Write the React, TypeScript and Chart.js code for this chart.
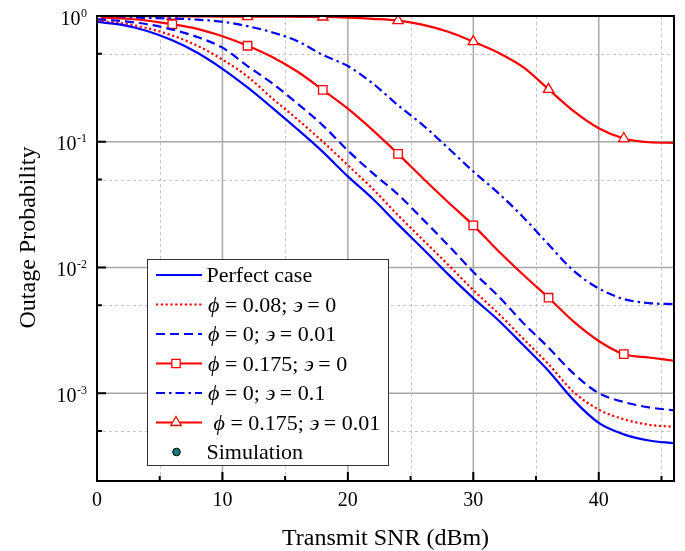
import React, { useEffect, useRef } from "react";
import { Chart, registerables } from "chart.js";

Chart.register(...registerables);

const W = 685;
const H = 551;
const FONT = '"Liberation Serif", "Times New Roman", "DejaVu Serif", serif';

// ---- data ----
const snr = [0, 2, 4, 6, 8, 10, 12, 14, 16, 18, 20, 22, 24, 26, 28, 30, 32, 34, 36, 38, 40, 42, 44, 46];
const perfect = [0.896, 0.85, 0.76, 0.64, 0.51, 0.38, 0.27, 0.185, 0.125, 0.083, 0.053, 0.035, 0.022, 0.014, 0.0088, 0.0057, 0.0038, 0.0024, 0.0015, 0.00088, 0.00058, 0.00047, 0.00042, 0.0004];
const phi008 = [0.918, 0.875, 0.8, 0.7, 0.58, 0.45, 0.33, 0.22, 0.15, 0.1, 0.065, 0.042, 0.026, 0.0165, 0.0105, 0.0066, 0.0043, 0.0027, 0.0017, 0.00102, 0.00074, 0.00062, 0.00056, 0.00054];
const eps001 = [0.94, 0.91, 0.86, 0.78, 0.68, 0.56, 0.4, 0.29, 0.2, 0.135, 0.085, 0.056, 0.038, 0.024, 0.015, 0.0092, 0.0059, 0.0036, 0.0023, 0.00143, 0.001, 0.00085, 0.00077, 0.00073];
const phi0175 = [0.975, 0.955, 0.92, 0.86, 0.79, 0.69, 0.58, 0.47, 0.36, 0.258, 0.183, 0.123, 0.08, 0.051, 0.033, 0.0216, 0.0135, 0.0087, 0.00574, 0.0037, 0.0026, 0.00204, 0.00192, 0.00181];
const eps01 = [0.97, 0.97, 0.965, 0.955, 0.935, 0.9, 0.83, 0.74, 0.63, 0.49, 0.4, 0.29, 0.195, 0.135, 0.089, 0.058, 0.039, 0.025, 0.0152, 0.0094, 0.0068, 0.0056, 0.0052, 0.0051];
const phi0175eps001 = [0.995, 0.995, 0.995, 0.995, 0.993, 0.99, 0.99, 0.988, 0.985, 0.982, 0.97, 0.95, 0.92, 0.85, 0.75, 0.625, 0.51, 0.39, 0.261, 0.175, 0.128, 0.106, 0.099, 0.098];

const labels = [
  "Perfect case",
  "\u03D5 = 0.08; \u03F6 = 0",
  "\u03D5 = 0; \u03F6 = 0.01",
  "\u03D5 = 0.175; \u03F6 = 0",
  "\u03D5 = 0; \u03F6 = 0.1",
  " \u03D5 = 0.175; \u03F6 = 0.01",
];
const simulationLabel = "Simulation";

const xMajor = [0, 10, 20, 30, 40];
const xMinor = [5, 15, 25, 35, 45];
const yMajor = [1, 0.1, 0.01, 0.001];
const yExp = ["0", "-1", "-2", "-3"];
const yMinor = [0.5, 0.05, 0.005, 0.0005];
const xTitle = "Transmit SNR (dBm)";
const yTitle = "Outage Probability";

const BLUE = "#0000ff";
const RED = "#ff0000";
const LW = 2.2;

const styles = [
  { color: BLUE, dash: [] as number[], marker: "" },
  { color: RED, dash: [2.2, 2.6], marker: "" },
  { color: BLUE, dash: [9, 5], marker: "" },
  { color: RED, dash: [] as number[], marker: "rect" },
  { color: BLUE, dash: [9, 4, 2.5, 4], marker: "" },
  { color: RED, dash: [] as number[], marker: "triangle" },
];
const series = [perfect, phi008, eps001, phi0175, eps01, phi0175eps001];

function isMarker(i: number) {
  const v = snr[i];
  return v % 6 === 0 && v <= 42;
}

function drawRich(ctx: CanvasRenderingContext2D, text: string, x: number, y: number, size: number) {
  let cx = x;
  for (const ch of text) {
    const italic = ch === "\u03D5" || ch === "\u03F6";
    ctx.font = `${italic ? "italic " : ""}${size}px ${FONT}`;
    ctx.fillText(ch, cx, y);
    cx += ctx.measureText(ch).width;
  }
}

function drawMarker(ctx: CanvasRenderingContext2D, kind: string, x: number, y: number) {
  ctx.save();
  ctx.setLineDash([]);
  ctx.fillStyle = "#fff";
  ctx.strokeStyle = RED;
  ctx.lineWidth = 1.3;
  ctx.beginPath();
  if (kind === "rect") {
    const s = 4.2;
    ctx.rect(x - s, y - s, 2 * s, 2 * s);
  } else if (kind === "triangle") {
    const r = 6;
    for (let k = 0; k < 3; k++) {
      const a = (k * 2 * Math.PI) / 3;
      const px = x + Math.sin(a) * r;
      const py = y - Math.cos(a) * r;
      if (k === 0) ctx.moveTo(px, py);
      else ctx.lineTo(px, py);
    }
    ctx.closePath();
  }
  ctx.fill();
  ctx.stroke();
  ctx.restore();
}

const decor = {
  id: "decor",
  beforeDatasetsDraw(chart: any) {
    const { ctx, chartArea: a } = chart;
    const x = chart.scales.x;
    const y = chart.scales.y;
    ctx.save();
    ctx.lineWidth = 1;
    ctx.strokeStyle = "#c4c4c4";
    ctx.setLineDash([3, 3]);
    ctx.beginPath();
    xMinor.forEach((v) => {
      const px = Math.round(x.getPixelForValue(v)) + 0.5;
      ctx.moveTo(px, a.top);
      ctx.lineTo(px, a.bottom);
    });
    yMinor.forEach((v) => {
      const py = Math.round(y.getPixelForValue(v)) + 0.5;
      ctx.moveTo(a.left, py);
      ctx.lineTo(a.right, py);
    });
    ctx.stroke();
    ctx.setLineDash([]);
    ctx.lineWidth = 1.5;
    ctx.strokeStyle = "#a8a8a8";
    ctx.beginPath();
    xMajor.forEach((v) => {
      if (v === 0) return;
      const px = x.getPixelForValue(v);
      ctx.moveTo(px, a.top);
      ctx.lineTo(px, a.bottom);
    });
    yMajor.forEach((v) => {
      if (v === 1) return;
      const py = y.getPixelForValue(v);
      ctx.moveTo(a.left, py);
      ctx.lineTo(a.right, py);
    });
    ctx.stroke();
    ctx.restore();
  },
  afterDatasetsDraw(chart: any) {
    const { ctx, chartArea: a } = chart;
    const x = chart.scales.x;
    const y = chart.scales.y;
    ctx.save();
    // axes box
    ctx.strokeStyle = "#000";
    ctx.lineWidth = 2;
    ctx.strokeRect(a.left, a.top, a.right - a.left, a.bottom - a.top);
    // ticks
    ctx.lineWidth = 2;
    ctx.beginPath();
    yMajor.forEach((v) => {
      const py = y.getPixelForValue(v);
      ctx.moveTo(a.left, py);
      ctx.lineTo(a.left + 9, py);
    });
    yMinor.forEach((v) => {
      const py = y.getPixelForValue(v);
      ctx.moveTo(a.left, py);
      ctx.lineTo(a.left + 5, py);
    });
    xMajor.forEach((v) => {
      const px = x.getPixelForValue(v);
      ctx.moveTo(px, a.bottom);
      ctx.lineTo(px, a.bottom - 9);
    });
    xMinor.forEach((v) => {
      const px = x.getPixelForValue(v);
      ctx.moveTo(px, a.bottom);
      ctx.lineTo(px, a.bottom - 5);
    });
    ctx.stroke();

    // tick labels
    ctx.fillStyle = "#000";
    ctx.textBaseline = "alphabetic";
    ctx.font = `20px ${FONT}`;
    ctx.textAlign = "center";
    xMajor.forEach((v) => {
      ctx.fillText(String(v), x.getPixelForValue(v), 506);
    });
    yMajor.forEach((v, i) => {
      const py = y.getPixelForValue(v);
      ctx.font = `12px ${FONT}`;
      const ws = ctx.measureText(yExp[i]).width;
      ctx.textAlign = "left";
      ctx.fillText(yExp[i], 87 - ws, py + 0.5);
      ctx.font = `20px ${FONT}`;
      ctx.textAlign = "right";
      ctx.fillText("10", 87 - ws - 0.5, py + 8.5);
    });

    // titles
    ctx.font = `24px ${FONT}`;
    ctx.textAlign = "center";
    ctx.fillText(xTitle, (a.left + a.right) / 2, 545);
    ctx.save();
    ctx.translate(35, 237.5);
    ctx.rotate(-Math.PI / 2);
    ctx.fillText(yTitle, 0, 0);
    ctx.restore();

    // legend
    const lx = 147.5, ly = 259.5, lw = 241, lh = 206;
    ctx.fillStyle = "#fff";
    ctx.fillRect(lx, ly, lw, lh);
    ctx.strokeStyle = "#333";
    ctx.lineWidth = 1;
    ctx.strokeRect(lx, ly, lw, lh);
    const base0 = 282;
    const step = 29.5;
    labels.forEach((lab, i) => {
      const bl = base0 + i * step;
      const cy = bl - 7;
      const st = styles[i];
      ctx.save();
      ctx.strokeStyle = st.color;
      ctx.lineWidth = LW;
      ctx.setLineDash(st.dash);
      ctx.beginPath();
      ctx.moveTo(156, cy);
      ctx.lineTo(202, cy);
      ctx.stroke();
      ctx.restore();
      if (st.marker) drawMarker(ctx, st.marker, 176, cy);
      ctx.fillStyle = "#000";
      ctx.textAlign = "left";
      drawRich(ctx, lab, i === 0 ? 206.5 : 208, bl, 22);
    });
    const sbl = base0 + 6 * step;
    ctx.beginPath();
    ctx.arc(176.5, sbl - 7, 3.8, 0, Math.PI * 2);
    ctx.fillStyle = "#157a78";
    ctx.fill();
    ctx.strokeStyle = "#000";
    ctx.lineWidth = 1;
    ctx.stroke();
    ctx.fillStyle = "#000";
    ctx.font = `22px ${FONT}`;
    ctx.fillText(simulationLabel, 206.5, sbl);
    ctx.restore();
  },
};

export default function App() {
  const ref = useRef<HTMLCanvasElement | null>(null);
  useEffect(() => {
    if (!ref.current) return;
    const datasets = series.map((vals, si) => {
      const st = styles[si];
      return {
        label: labels[si],
        data: snr.map((v, i) => ({ x: v, y: vals[i] })),
        borderColor: st.color,
        borderWidth: LW,
        borderDash: st.dash,
        cubicInterpolationMode: "monotone" as const,
        fill: false,
        pointStyle: st.marker || "circle",
        pointRadius: st.marker ? (c: any) => (isMarker(c.dataIndex) ? 6 : 0) : 0,
        pointBackgroundColor: "#fff",
        pointBorderColor: st.color,
        pointBorderWidth: 1.3,
        pointHoverRadius: 0,
      };
    });
    const chart = new Chart(ref.current, {
      type: "line",
      data: { datasets },
      options: {
        responsive: false,
        animation: false,
        devicePixelRatio: 1,
        layout: { padding: { left: 97, top: 16, right: 11, bottom: 70 } },
        plugins: { legend: { display: false }, tooltip: { enabled: false } },
        events: [],
        scales: {
          x: { type: "linear", min: 0, max: 46, display: false },
          y: { type: "logarithmic", min: 2e-4, max: 1, display: false },
        },
      },
      plugins: [decor],
    });
    return () => chart.destroy();
  }, []);
  return (
    <div style={{ position: "fixed", left: 0, top: 0, width: W, height: H, background: "#fff" }}>
      <canvas ref={ref} width={W} height={H} style={{ display: "block" }} />
    </div>
  );
}
